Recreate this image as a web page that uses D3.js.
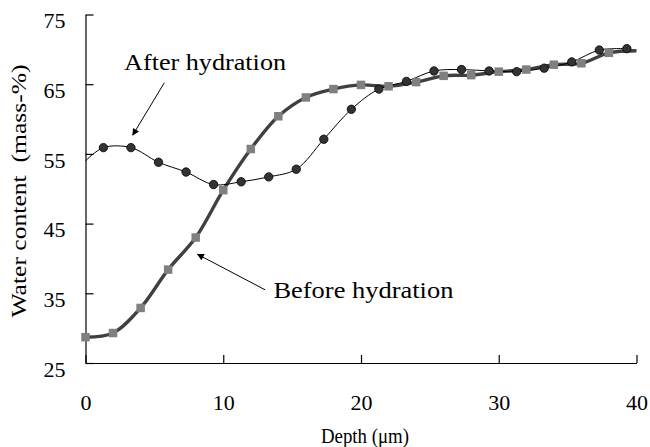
<!DOCTYPE html>
<html>
<head>
<meta charset="utf-8">
<script src="https://cdn.jsdelivr.net/npm/d3@7"></script>
<style>
  html, body { margin: 0; padding: 0; background: #fff; }
  svg { display: block; font-family: "Liberation Serif", "Times New Roman", serif; }
</style>
</head>
<body>
<svg id="chart" width="650" height="447"></svg>
<script>
// Water content vs depth, before / after hydration

// data
const beforeDepth = [0, 2, 4, 6, 8, 10, 12, 14, 16, 18, 20, 22, 24, 26, 28, 30, 32, 34, 36, 38];
const beforeWater = [28.7, 29.3, 32.9, 38.4, 43.0, 49.8, 55.7, 60.4, 63.1, 64.3, 64.9, 64.7, 65.3, 66.2, 66.3, 66.8, 67.1, 67.8, 68.0, 69.5];
const beforeLineEnd = [40, 69.8]; // curve continues past last marker

const afterDepth = [1.3, 3.3, 5.3, 7.3, 9.3, 11.3, 13.3, 15.3, 17.3, 19.3, 21.3, 23.3, 25.3, 27.3, 29.3, 31.3, 33.3, 35.3, 37.3, 39.3];
const afterWater = [55.9, 55.9, 53.8, 52.4, 50.6, 51.0, 51.7, 52.8, 57.1, 61.4, 64.3, 65.4, 66.9, 67.1, 66.9, 66.8, 67.3, 68.2, 69.9, 70.1];
const afterLineStart = [0, 54.0]; // curve starts before first marker

const xTicks = [0, 10, 20, 30, 40];
const yTicks = [25, 35, 45, 55, 65, 75];

// annotations in data units: text anchor, arrow start, arrow tip
const annAfter = { text: "After hydration", at: [2.8, 67.1], from: [5.72, 65.2], to: [3.43, 57.7] };
const annBefore = { text: "Before hydration", at: [13.64, 34.3], from: [13.04, 35.5], to: [8.13, 40.6] };

const svg = d3.select("#chart");

const x = d3.scaleLinear().domain([0, 40]).range([85.5, 636.5]);
const y = d3.scaleLinear().domain([25, 75]).range([363, 14.5]);

// arrow marker
svg.append("defs")
  .append("marker")
  .attr("id", "arrow")
  .attr("viewBox", "0 0 10 10")
  .attr("refX", 9)
  .attr("refY", 5)
  .attr("markerWidth", 9)
  .attr("markerHeight", 7)
  .attr("markerUnits", "userSpaceOnUse")
  .attr("orient", "auto")
  .append("path")
  .attr("d", "M0,0 L10,5 L0,10 z")
  .attr("fill", "#000");

// axes (ticks point inward)
const xAxis = d3.axisBottom(x).tickValues(xTicks).tickSizeInner(-8).tickSizeOuter(0).tickPadding(31);
const yAxis = d3.axisLeft(y).tickValues(yTicks).tickSizeInner(-8).tickSizeOuter(0).tickPadding(20);

const xAxisG = svg.append("g").attr("transform", `translate(0,${y(25)})`).call(xAxis);
const yAxisG = svg.append("g").attr("transform", `translate(${x(0)},0)`).call(yAxis);

[xAxisG, yAxisG].forEach((a) => {
  a.attr("font-family", null);
  a.selectAll("path, line").attr("stroke", "#000").attr("stroke-width", 1.2);
  a.selectAll("text")
    .attr("fill", "#000")
    .attr("font-size", 22);
});
yAxisG.selectAll("text").attr("dy", "0.6em");

// axis titles
svg.append("text")
  .attr("x", 365)
  .attr("y", 443)
  .attr("text-anchor", "middle")
  .attr("font-size", 20)
  .attr("textLength", 88)
  .attr("lengthAdjust", "spacingAndGlyphs")
  .text("Depth (μm)");

svg.append("text")
  .attr("transform", "translate(26,191) rotate(-90)")
  .attr("text-anchor", "middle")
  .attr("font-size", 22)
  .attr("textLength", 253)
  .attr("lengthAdjust", "spacingAndGlyphs")
  .attr("xml:space", "preserve")
  .text("Water content  (mass-%)");

// series
const beforePts = beforeDepth.map((d, i) => [d, beforeWater[i]]);
const afterPts = afterDepth.map((d, i) => [d, afterWater[i]]);

const line = d3.line()
  .x((d) => x(d[0]))
  .y((d) => y(d[1]))
  .curve(d3.curveCatmullRom.alpha(0.5));

svg.append("path")
  .datum([...beforePts, beforeLineEnd])
  .attr("d", line)
  .attr("fill", "none")
  .attr("stroke", "#404040")
  .attr("stroke-width", 3.4);

svg.append("path")
  .datum([afterLineStart, ...afterPts])
  .attr("d", line)
  .attr("fill", "none")
  .attr("stroke", "#000")
  .attr("stroke-width", 1);

const sq = 8.5;
svg.append("g")
  .selectAll("rect")
  .data(beforePts)
  .join("rect")
  .attr("x", (d) => x(d[0]) - sq / 2)
  .attr("y", (d) => y(d[1]) - sq / 2)
  .attr("width", sq)
  .attr("height", sq)
  .attr("fill", "#808080");

svg.append("g")
  .selectAll("circle")
  .data(afterPts)
  .join("circle")
  .attr("cx", (d) => x(d[0]))
  .attr("cy", (d) => y(d[1]))
  .attr("r", 4.2)
  .attr("fill", "#333")
  .attr("stroke", "#000")
  .attr("stroke-width", 0.8);

// annotations
[
  { a: annAfter, len: 162 },
  { a: annBefore, len: 180 },
].forEach(({ a, len }) => {
  svg.append("text")
    .attr("x", x(a.at[0]))
    .attr("y", y(a.at[1]))
    .attr("font-size", 23)
    .attr("textLength", len)
    .attr("lengthAdjust", "spacingAndGlyphs")
    .text(a.text);

  svg.append("line")
    .attr("x1", x(a.from[0]))
    .attr("y1", y(a.from[1]))
    .attr("x2", x(a.to[0]))
    .attr("y2", y(a.to[1]))
    .attr("stroke", "#000")
    .attr("stroke-width", 1)
    .attr("marker-end", "url(#arrow)");
});
</script>
</body>
</html>
